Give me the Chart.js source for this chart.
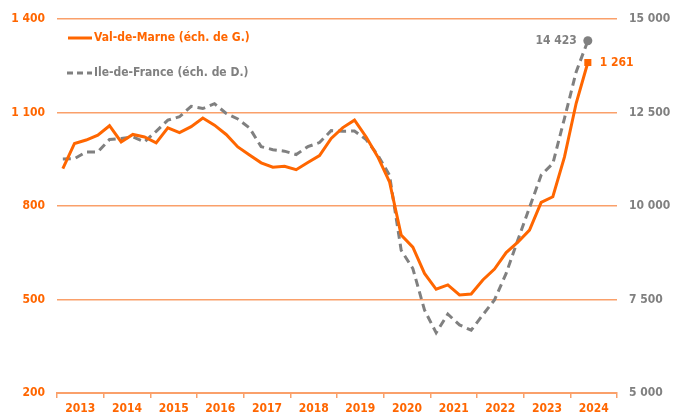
<!DOCTYPE html>
<html>
<head>
<meta charset="utf-8">
<script src="https://cdn.jsdelivr.net/npm/chart.js@4/dist/chart.umd.min.js"></script>
<style>
  html, body { margin: 0; padding: 0; background: #fff; }
  #wrap { width: 684px; height: 414px; }
</style>
</head>
<body>
<div id="wrap"><canvas id="myChart" width="684" height="414"></canvas></div>
<script>
const years = ['2013','2014','2015','2016','2017','2018','2019','2020','2021','2022','2023','2024'];
const quarters = years.flatMap(y => ['T1','T2','T3','T4'].map(q => y + q));

// Val-de-Marne (left scale)
const valDeMarne = [920, 1001, 1012, 1028, 1058, 1006, 1030, 1022, 1003, 1051, 1036, 1055,
                    1083, 1060, 1030, 990, 964, 939, 925, 928, 917, 940, 962, 1017,
                    1052, 1076, 1022, 958, 878, 707, 668, 584, 533, 547, 515, 518,
                    563, 598, 651, 684, 723, 812, 830, 958, 1130, 1261];
// Ile-de-France (right scale)
const ileDeFrance = [11260, 11270, 11450, 11450, 11780, 11810, 11850, 11720, 12000, 12300, 12390, 12670,
                     12610, 12740, 12480, 12330, 12090, 11590, 11510, 11470, 11380, 11590, 11700, 12020,
                     12000, 12010, 11780, 11360, 10830, 8820, 8330, 7220, 6610, 7110, 6820, 6680,
                     7090, 7490, 8200, 9090, 9960, 10830, 11140, 12350, 13590, 14423];

const leftTicks = [200, 500, 800, 1100, 1400];
const rightTicks = [5000, 7500, 10000, 12500, 15000];

const ORANGE = '#FF6600';
const GRID = '#FAA06A';
const GREY = '#808080';
const FONT = '"DejaVu Sans Condensed", "DejaVu Sans", sans-serif';

function fmt(v) {
    return String(v).replace(/\B(?=(\d{3})+(?!\d))/g, ' ');
}

// legend + end labels drawn on top of the chart area
const extras = {
    id: 'extras',
    afterDatasetsDraw(chart) {
        const ctx = chart.ctx;
        ctx.save();
        ctx.font = 'bold 12px ' + FONT;
        ctx.textBaseline = 'middle';

        // legend
        ctx.lineWidth = 3;
        ctx.strokeStyle = ORANGE;
        ctx.beginPath(); ctx.moveTo(68, 38); ctx.lineTo(92, 38); ctx.stroke();
        ctx.fillStyle = ORANGE;
        ctx.textAlign = 'left';
        ctx.fillText('Val-de-Marne (éch. de G.)', 94, 38);

        ctx.strokeStyle = GREY;
        ctx.setLineDash([6, 4]);
        ctx.beginPath(); ctx.moveTo(67, 73); ctx.lineTo(92, 73); ctx.stroke();
        ctx.setLineDash([]);
        ctx.fillStyle = GREY;
        ctx.fillText('Ile-de-France (éch. de D.)', 94, 73);

        // end labels
        const m0 = chart.getDatasetMeta(0).data;
        const m1 = chart.getDatasetMeta(1).data;
        const p0 = m0[m0.length - 1];
        const p1 = m1[m1.length - 1];
        ctx.fillStyle = GREY;
        ctx.textAlign = 'right';
        ctx.fillText(fmt(ileDeFrance[ileDeFrance.length - 1]), p1.x - 11, p1.y);
        ctx.fillStyle = ORANGE;
        ctx.textAlign = 'left';
        ctx.fillText(fmt(valDeMarne[valDeMarne.length - 1]), p0.x + 12, p0.y);
        ctx.restore();
    }
};

const lastOnly = (n, r) => c => c.dataIndex === n - 1 ? r : 0;

new Chart(document.getElementById('myChart'), {
    type: 'line',
    data: {
        labels: quarters,
        datasets: [
            {
                label: 'Val-de-Marne (éch. de G.)',
                data: valDeMarne,
                yAxisID: 'y',
                borderColor: ORANGE,
                backgroundColor: ORANGE,
                borderWidth: 3,
                tension: 0,
                pointStyle: 'rect',
                pointRadius: lastOnly(valDeMarne.length, 5),
                pointBorderWidth: 0
            },
            {
                label: 'Ile-de-France (éch. de D.)',
                data: ileDeFrance,
                yAxisID: 'y2',
                borderColor: GREY,
                backgroundColor: GREY,
                borderWidth: 3,
                borderDash: [8, 5],
                tension: 0,
                pointRadius: lastOnly(ileDeFrance.length, 4.5),
                pointBorderWidth: 0
            }
        ]
    },
    options: {
        responsive: false,
        animation: false,
        layout: { padding: { top: 19, left: 0, right: 0, bottom: 0 } },
        plugins: { legend: { display: false }, tooltip: { enabled: false } },
        scales: {
            x: {
                type: 'category',
                offset: true,
                display: false
            },
            xYears: {
                type: 'category',
                labels: years,
                position: 'bottom',
                offset: true,
                grid: { offset: true, drawOnChartArea: false, color: GRID, tickLength: 5, lineWidth: 1.5 },
                border: { color: GRID, width: 2 },
                ticks: { color: ORANGE, font: { family: FONT, size: 12, weight: 'bold' }, padding: 4, maxRotation: 0, autoSkip: false },
                afterFit: s => { s.height = 21; }
            },
            y: {
                position: 'left',
                min: 200, max: 1400,
                afterBuildTicks: s => { s.ticks = leftTicks.map(v => ({ value: v })); },
                grid: { color: GRID, lineWidth: 1.5, drawTicks: false },
                border: { display: false },
                ticks: { color: ORANGE, font: { family: FONT, size: 12, weight: 'bold' }, padding: 12, callback: v => fmt(v) },
                afterFit: s => { s.width = 57; }
            },
            y2: {
                position: 'right',
                min: 5000, max: 15000,
                afterBuildTicks: s => { s.ticks = rightTicks.map(v => ({ value: v })); },
                grid: { display: false, drawTicks: false },
                border: { display: false },
                ticks: { color: GREY, font: { family: FONT, size: 12, weight: 'bold' }, padding: 12, callback: v => fmt(v) },
                afterFit: s => { s.width = 67; }
            }
        }
    },
    plugins: [extras]
});
</script>
</body>
</html>
